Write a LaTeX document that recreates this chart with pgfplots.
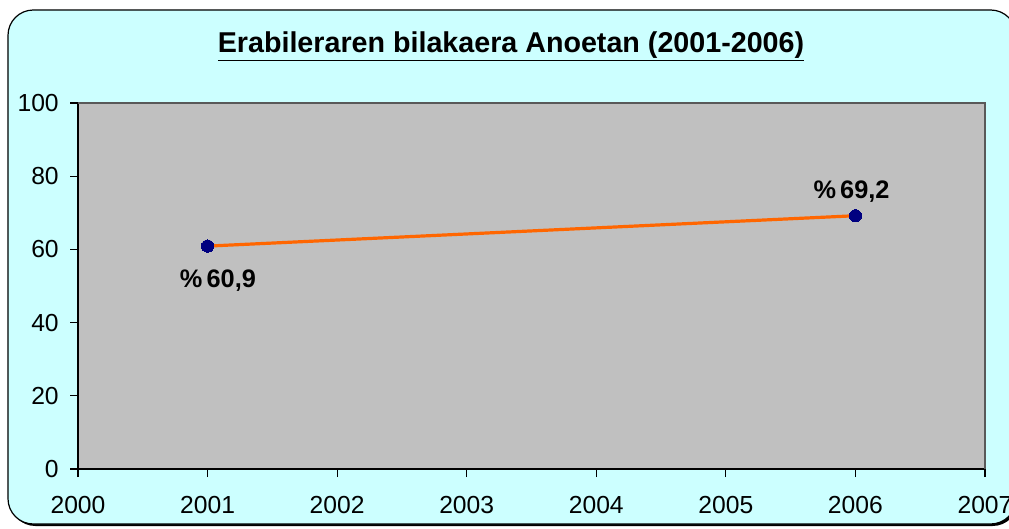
\documentclass[border=0pt]{standalone}
\usepackage{pgfplots}
\pgfplotsset{compat=1.18}
\usepackage{fontspec}
\setmainfont{Liberation Sans}
\definecolor{bgcyan}{HTML}{CCFFFF}
\definecolor{plotgray}{HTML}{C0C0C0}
\definecolor{lineorange}{HTML}{FF6600}
\definecolor{marknavy}{HTML}{000080}
\begin{document}
\begin{tikzpicture}
\useasboundingbox (-58.5pt,-44.25pt) rectangle (698.25pt,351.75pt);
% frame with shadow
\fill[black, rounded corners=19pt] (-51pt,-42.75pt) rectangle (705pt,342.75pt);
\filldraw[fill=bgcyan, draw=black, line width=0.9pt, rounded corners=19pt] (-52.5pt,-41.25pt) rectangle (703.5pt,344.25pt);
\node[font=\fontsize{21.5}{25}\selectfont\bfseries] at (324.75pt,317pt) {\underline{Erabileraren bilakaera Anoetan (2001-2006)}};
\begin{axis}[
  at={(0pt,0pt)}, anchor=origin,
  scale only axis,
  width=680.25pt, height=274.5pt,
  xmin=2000, xmax=2007, ymin=0, ymax=100,
  xtick={2000,2001,...,2007},
  ytick={0,20,...,100},
  axis background/.style={fill=plotgray},
  axis x line*=bottom, axis y line*=left,
  axis line style={black, line width=0.8pt, -},
  tick align=outside,
  major tick length=6pt,
  tick style={black, line width=0.8pt},
  ticklabel style={font=\fontsize{18.5}{21}\selectfont},
  /pgf/number format/assume math mode=true,
  /pgf/number format/1000 sep={},
  xticklabel style={yshift=-11pt},
  yticklabel style={xshift=-5pt},
  clip=false,
]
\draw[gray!70!black, line width=0.8pt] (axis cs:2000,100) -- (axis cs:2007,100) -- (axis cs:2007,0);
\addplot[color=lineorange, line width=2.4pt, mark=*, mark size=4.6pt,
  mark options={fill=marknavy, draw=marknavy, line width=0pt}]
  coordinates {(2001,60.9) (2006,69.2)};
\node[font=\fontsize{19}{22}\selectfont\bfseries] at (axis cs:2001.08,51.6) {\%\,60,9};
\node[font=\fontsize{19}{22}\selectfont\bfseries] at (axis cs:2005.97,75.7) {\%\,69,2};
\end{axis}
\end{tikzpicture}
\end{document}
